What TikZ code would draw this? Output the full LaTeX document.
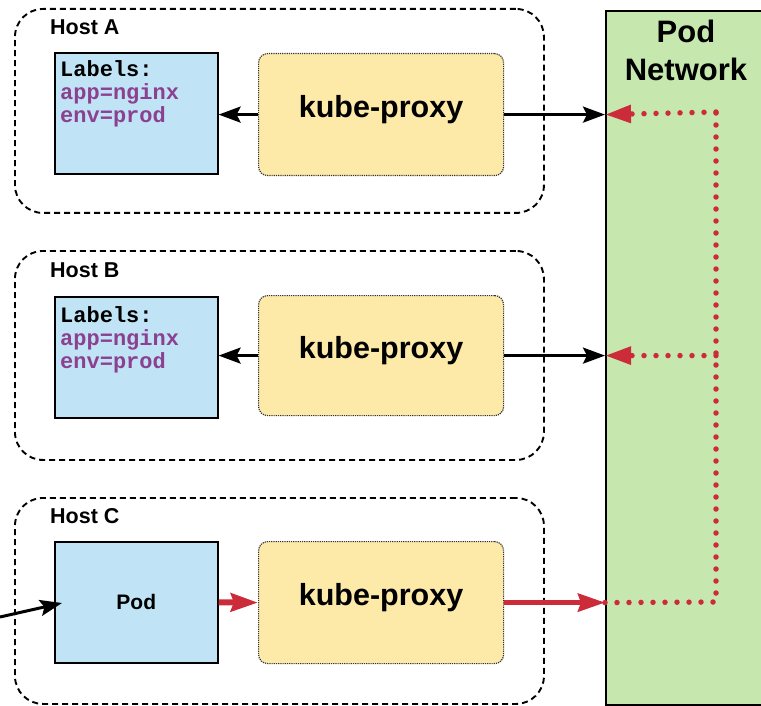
\documentclass[tikz,border=0pt]{standalone}
\usepackage{fontspec}
\setmainfont{Liberation Sans}
\setmonofont{Liberation Mono}
\usetikzlibrary{arrows.meta}

\definecolor{podblau}{HTML}{C0E4F6}
\definecolor{proxygelb}{HTML}{FDE9A8}
\definecolor{netzgruen}{HTML}{C6E8AE}
\definecolor{lila}{HTML}{8C4090}
\definecolor{rot}{HTML}{CC2B3A}

\begin{document}
\begin{tikzpicture}[x=1pt,y=-1pt,
    host/.style={draw, line width=1.9pt, dash pattern=on 6pt off 4pt, rounded corners=28pt,
        anchor=north west, minimum width=529pt, minimum height=204pt},
    hosttitel/.style={anchor=base west, inner sep=0pt, font=\fontsize{21.5}{24}\selectfont\bfseries},
    podbox/.style={draw, fill=podblau, line width=1.6pt, anchor=north west,
        minimum width=163pt, minimum height=121pt, font=\fontsize{21}{24}\selectfont\bfseries},
    labtxt/.style={anchor=base west, inner sep=0pt, align=left,
        font=\fontsize{22}{23}\selectfont\ttfamily\bfseries},
    kube/.style={draw=black!80, densely dotted, fill=proxygelb, line width=1.2pt, rounded corners=9pt,
        anchor=north west, minimum width=245pt, minimum height=122pt,
        text height=21pt, text depth=15pt, font=\fontsize{30.5}{36}\selectfont\bfseries},
    pfeil/.style={line width=3pt, -{Stealth[length=22pt,width=16pt,inset=4pt]}},
    rotpfeil/.style={draw=rot, line width=5pt, -{Stealth[length=27pt,width=18pt,inset=3pt]}},
    rotpunkt/.style={draw=rot, line width=5.5pt, line cap=round, dash pattern=on 0pt off 12pt}]

    \useasboundingbox (0,0) rectangle (761,706);

    % Pod Netzwerk
    \node[draw, fill=netzgruen, line width=1.6pt, anchor=north west,
        minimum width=175pt, minimum height=694pt] (netz) at (605,10) {};
    \node[align=center, font=\fontsize{31}{38}\selectfont\bfseries] (netztitel) at (686,50) {Pod\\Network};

    % Host A
    \node[host] (hostA) at (14,8) {};
    \node[hosttitel] (titelA) at (50,35) {Host A};
    \node[podbox] (podA) at (54,52) {};
    \node[labtxt] (labA) at (60,123) {Labels:\\\textcolor{lila}{app=nginx}\\\textcolor{lila}{env=prod}};
    \node[kube] (kubeA) at (258,53) {kube-proxy};
    \draw[pfeil] (kubeA.west) -- (kubeA.west -| podA.east);
    \draw[pfeil] (kubeA.east) -- (kubeA.east -| netz.west);

    % Host B
    \node[host, minimum height=209pt] (hostB) at (14,250) {};
    \node[hosttitel] (titelB) at (50,277) {Host B};
    \node[podbox] (podB) at (54,296) {};
    \node[labtxt] (labB) at (60,368) {Labels:\\\textcolor{lila}{app=nginx}\\\textcolor{lila}{env=prod}};
    \node[kube, minimum height=120pt] (kubeB) at (258,295) {kube-proxy};
    \draw[pfeil] (kubeB.west) -- (kubeB.west -| podB.east);
    \draw[pfeil] (kubeB.east) -- (kubeB.east -| netz.west);

    % Host C
    \node[host, minimum height=206pt] (hostC) at (14,497) {};
    \node[hosttitel] (titelC) at (50,523) {Host C};
    \node[podbox] (podC) at (54,541) {Pod};
    \node[kube] (kubeC) at (258,541) {kube-proxy};
    \draw[rotpfeil, line width=6pt] (podC.east) -- (kubeC.west);
    \draw[rotpfeil] (kubeC.east) -- (kubeC.east -| netz.west);

    % Verkehr von aussen
    \coordinate (aussen) at (0,617);
    \coordinate (podziel) at (62,603);
    \draw[pfeil] (aussen) -- (podziel);

    % Weiterleitung im Pod Netzwerk
    \coordinate (eckeO) at (716,112);
    \coordinate (eckeU) at (716,602);
    \draw[rotpunkt] (kubeC.east -| netz.west) -- (eckeU) -- (eckeO);
    \draw[rotpunkt, -{Triangle[length=26pt,width=17pt]}] (eckeO) -- (kubeA.east -| netz.west);
    \draw[rotpunkt, -{Triangle[length=26pt,width=17pt]}] (kubeB.east -| eckeO) -- (kubeB.east -| netz.west);
\end{tikzpicture}
\end{document}
